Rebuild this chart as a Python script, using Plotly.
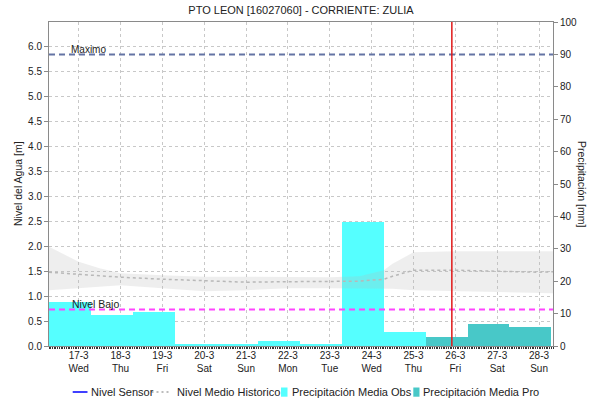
import plotly.graph_objects as go
import pandas as pd

# ---------------- data ----------------
chart_title = "PTO LEON [16027060] - CORRIENTE: ZULIA"

days = ["2021-03-17", "2021-03-18", "2021-03-19", "2021-03-20", "2021-03-21", "2021-03-22",
        "2021-03-23", "2021-03-24", "2021-03-25", "2021-03-26", "2021-03-27", "2021-03-28"]
day_labels = ["17-3<br>Wed", "18-3<br>Thu", "19-3<br>Fri", "20-3<br>Sat", "21-3<br>Sun", "22-3<br>Mon",
              "23-3<br>Tue", "24-3<br>Wed", "25-3<br>Thu", "26-3<br>Fri", "27-3<br>Sat", "28-3<br>Sun"]

obs_days = days[:9]
obs_precip = [13.7, 9.6, 10.4, 0.7, 0.7, 1.5, 0.6, 38.3, 4.4]   # mm
pro_days = days[9:]
pro_precip = [2.9, 6.8, 5.8]                                   # mm

hist_time = ["2021-03-16 07:00", "2021-03-17 00:00", "2021-03-17 12:00", "2021-03-18 00:00",
             "2021-03-19 00:00", "2021-03-20 00:00", "2021-03-21 00:00", "2021-03-22 00:00",
             "2021-03-23 00:00", "2021-03-23 17:00", "2021-03-24 07:00", "2021-03-24 12:00",
             "2021-03-25 00:00", "2021-03-26 00:00", "2021-03-27 00:00", "2021-03-28 00:00",
             "2021-03-28 08:00"]
hist_upper = [1.99, 1.69, 1.56, 1.46, 1.42, 1.39, 1.39, 1.38, 1.38, 1.40, 1.52, 1.65,
              1.88, 1.90, 1.90, 1.90, 1.90]
hist_median = [1.48, 1.44, 1.41, 1.38, 1.34, 1.31, 1.28, 1.29, 1.29, 1.30, 1.34, 1.40,
               1.52, 1.52, 1.50, 1.48, 1.49]
hist_lower = [1.12, 1.16, 1.20, 1.22, 1.16, 1.10, 1.12, 1.16, 1.16, 1.16, 1.16, 1.15,
              1.12, 1.10, 1.08, 1.06, 1.06]

sensor_time = []
sensor_level = []

nivel_maximo = 5.85
nivel_bajo = 0.73
now_time = "2021-03-25 22:00"

level_ticks = [0.0, 0.5, 1.0, 1.5, 2.0, 2.5, 3.0, 3.5, 4.0, 4.5, 5.0, 5.5, 6.0]
precip_ticks = [0, 10, 20, 30, 40, 50, 60, 70, 80, 90, 100]

# ---------------- layout helpers ----------------
W, H = 595, 405
L, R, T, B = 49, 42, 22, 59
PW, PH = W - L - R, H - T - B


def px_x(px):
    return (px - L) / PW


def px_y(py):
    return (H - B - py) / PH


FONT = "Liberation Sans, Arial, sans-serif"
TXT = "#222222"
DAY_MS = 86400000
# precipitation day runs 07:00 -> 07:00, bar centred 5 h before the date's midnight
obs_centres = pd.to_datetime(obs_days) - pd.Timedelta(hours=5)
pro_centres = pd.to_datetime(pro_days) - pd.Timedelta(hours=5)

fig = go.Figure()

# bars on primary (right, precipitation) axis -> drawn underneath the overlay
fig.add_trace(go.Bar(x=obs_centres, y=obs_precip, width=DAY_MS, yaxis="y",
                     marker=dict(color="#55FFFF", line=dict(width=0)),
                     name="Precipitación Media Obs"))
fig.add_trace(go.Bar(x=pro_centres, y=pro_precip, width=DAY_MS, yaxis="y",
                     marker=dict(color="#48C8C8", line=dict(width=0)),
                     name="Precipitación Media Pro"))

# historical band + median on the level axis (overlay, drawn on top)
fig.add_trace(go.Scatter(x=hist_time, y=hist_lower, yaxis="y2", mode="lines",
                         line=dict(width=0), hoverinfo="skip", showlegend=False))
fig.add_trace(go.Scatter(x=hist_time, y=hist_upper, yaxis="y2", mode="lines",
                         line=dict(width=0), fill="tonexty",
                         fillcolor="rgba(185,185,185,0.24)", hoverinfo="skip", showlegend=False))
fig.add_trace(go.Scatter(x=hist_time, y=hist_median, yaxis="y2", mode="lines",
                         line=dict(color="#B8B8B8", width=1.5, dash="dot"),
                         name="Nivel Medio Historico"))
fig.add_trace(go.Scatter(x=sensor_time, y=sensor_level, yaxis="y2", mode="lines",
                         line=dict(color="#0000FF", width=1.5), name="Nivel Sensor"))

shapes = [
    dict(type="line", xref="paper", x0=0, x1=1, yref="y2", y0=nivel_maximo, y1=nivel_maximo,
         line=dict(color="#6474A4", width=2, dash="6px,4px")),
    dict(type="line", xref="paper", x0=0, x1=1, yref="y2", y0=nivel_bajo, y1=nivel_bajo,
         line=dict(color="#FF44FF", width=2, dash="6px,4px")),
    dict(type="line", xref="x", x0=now_time, x1=now_time, yref="paper", y0=0, y1=1,
         line=dict(color="#E01818", width=1.5)),
    # manual legend symbols
    dict(type="line", xref="paper", yref="paper", x0=px_x(72.7), x1=px_x(87.5),
         y0=px_y(392), y1=px_y(392), line=dict(color="#0000FF", width=1.5)),
    dict(type="line", xref="paper", yref="paper", x0=px_x(151.5), x1=px_x(170),
         y0=px_y(392), y1=px_y(392), line=dict(color="#BDBDBD", width=2, dash="2px,3px")),
    dict(type="rect", xref="paper", yref="paper", x0=px_x(281), x1=px_x(287.5),
         y0=px_y(396.7), y1=px_y(387.5), line=dict(width=0), fillcolor="#55FFFF"),
    dict(type="rect", xref="paper", yref="paper", x0=px_x(413.3), x1=px_x(419.5),
         y0=px_y(396.7), y1=px_y(387.5), line=dict(width=0), fillcolor="#48C8C8"),
]

annotations = [
    dict(text="Maximo", xref="paper", x=px_x(69), yref="y2", y=nivel_maximo, xanchor="left",
         yanchor="middle", yshift=5, showarrow=False, font=dict(size=10, color=TXT, family=FONT)),
    dict(text="Nivel Bajo", xref="paper", x=px_x(70), yref="y2", y=nivel_bajo, xanchor="left",
         yanchor="middle", yshift=6, showarrow=False, font=dict(size=10.5, color=TXT, family=FONT)),
    dict(text="Nivel del Agua [m]", xref="paper", x=px_x(18), yref="paper", y=0.5,
         xanchor="center", yanchor="middle", textangle=-90, showarrow=False,
         font=dict(size=10.5, color=TXT, family=FONT)),
    dict(text="Precipitación [mm]", xref="paper", x=px_x(582), yref="paper", y=0.5,
         xanchor="center", yanchor="middle", textangle=90, showarrow=False,
         font=dict(size=10.5, color=TXT, family=FONT)),
]
legend_items = [("Nivel Sensor", 89.3), ("Nivel Medio Historico", 174.7),
                ("Precipitación Media Obs", 290), ("Precipitación Media Pro", 421)]
for txt, xp in legend_items:
    annotations.append(dict(text=txt, xref="paper", x=px_x(xp), yref="paper", y=px_y(392),
                            xanchor="left", yanchor="middle", showarrow=False,
                            font=dict(size=11, color=TXT, family=FONT)))

fig.update_layout(
    width=W, height=H,
    margin=dict(l=L, r=R, t=T, b=B, pad=0, autoexpand=False),
    paper_bgcolor="white", plot_bgcolor="white",
    font=dict(family=FONT, size=10, color=TXT),
    title=dict(text=chart_title, x=0.5, xref="paper", xanchor="center",
               y=1 - 10.5 / H, yref="container", yanchor="middle",
               font=dict(size=11, color=TXT, family=FONT)),
    showlegend=False,
    barmode="overlay",
    bargap=0,
    shapes=shapes,
    annotations=annotations,
    xaxis=dict(type="date", range=["2021-03-16 07:00", "2021-03-28 08:00"],
               tickmode="array", tickvals=days, ticktext=day_labels,
               ticks="", showgrid=True, gridcolor="#C8C8C8", griddash="dot", gridwidth=1,
               showline=True, linecolor="#8A8A8A", linewidth=1, mirror=True,
               tickfont=dict(size=10, color=TXT), zeroline=False, automargin=False,
               minor=dict(ticks="outside", ticklen=2, tickcolor="#333333", tickwidth=1,
                          dtick=3600000, showgrid=False)),
    yaxis=dict(side="right", range=[0, 100], tickmode="array", tickvals=precip_ticks,
               ticks="outside", ticklen=4, tickcolor="#8A8A8A", showgrid=False,
               showline=True, linecolor="#8A8A8A", linewidth=1, zeroline=False,
               automargin=False, tickfont=dict(size=10, color=TXT)),
    yaxis2=dict(side="left", overlaying="y", range=[0, 6.5], tickmode="array",
                tickvals=level_ticks, tickformat=".1f",
                ticks="outside", ticklen=4, tickcolor="#8A8A8A",
                showgrid=True, gridcolor="#C8C8C8", griddash="dot", gridwidth=1,
                showline=True, linecolor="#8A8A8A", linewidth=1, zeroline=False,
                automargin=False, tickfont=dict(size=10, color=TXT)),
)

fig.write_html("out.html", config={"displayModeBar": False},
               post_script="document.body.style.margin='0';document.body.style.padding='0';")
